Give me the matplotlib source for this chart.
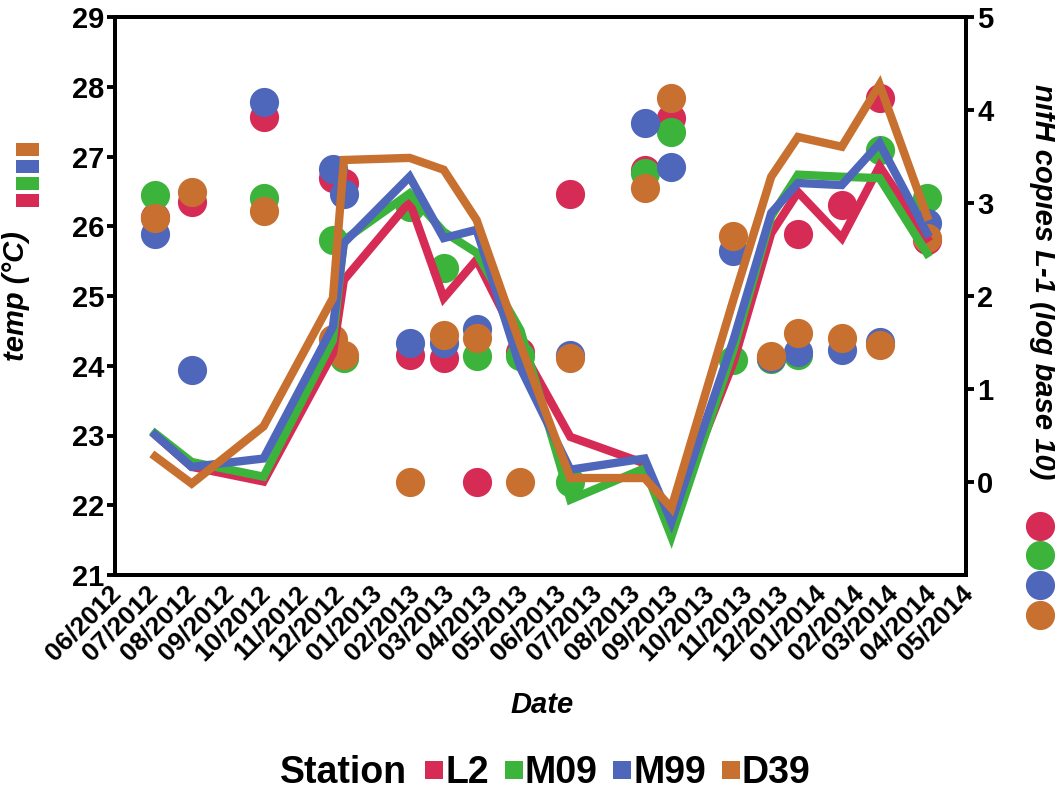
import numpy as np
import pandas as pd
import matplotlib
matplotlib.use('Agg')
import matplotlib.pyplot as plt
import matplotlib.dates as mdates
import matplotlib.transforms as mtransforms
from matplotlib.lines import Line2D
from matplotlib.patches import Patch

plt.rcParams['font.family'] = ['Liberation Sans', 'DejaVu Sans']
plt.rcParams['font.weight'] = 'bold'
plt.rcParams['axes.labelweight'] = 'bold'

# sampling dates (shared by all stations)
sample_dates = ['2012-07-04', '2012-08-03', '2012-10-01', '2012-11-27', '2012-12-06',
                '2013-01-29', '2013-02-26', '2013-03-25', '2013-04-30', '2013-06-10',
                '2013-08-10', '2013-09-01', '2013-10-22', '2013-11-22', '2013-12-14',
                '2014-01-19', '2014-02-19', '2014-03-30']

stations = ['L2', 'M09', 'M99', 'D39']
station_colors = ['#D62B55', '#3CB43C', '#4F67BA', '#C8702F']

# temperature (left axis, lines)
temp_L2 = [23.01, 22.55, 22.34, 24.18, 25.23, 26.35, 24.97, 25.52, 24.27, 22.98,
           22.60, 21.79, 24.05, 25.90, 26.49, 25.83, 26.86, 25.83]
temp_M09 = [23.03, 22.62, 22.41, 24.37, 25.80, 26.47, 25.92, 25.62, 24.51, 22.08,
            22.53, 21.55, 24.23, 26.14, 26.74, 26.71, 26.69, 25.61]
temp_M99 = [23.01, 22.55, 22.67, 24.56, 25.76, 26.71, 25.83, 25.95, 23.97, 22.51,
            22.67, 21.76, 24.37, 26.19, 26.62, 26.59, 27.19, 25.90]
temp_D39 = [22.70, 22.31, 23.13, 24.97, 26.95, 26.98, 26.81, 26.09, 24.30, 22.39,
            22.39, 21.96, 24.95, 26.71, 27.28, 27.14, 28.03, 26.14]

# nifH copies L-1, log10 (right axis, points); nan = no visible point
nan = np.nan
nifh_L2 = [2.85, 3.01, 3.93, 3.27, 3.22, 1.37, 1.33, 0.00, 1.40, 3.10,
           3.35, 3.91, nan, nan, 2.67, 2.98, 4.13, 2.60]
nifh_M09 = [3.09, nan, 3.05, 2.60, 1.33, 2.96, 2.30, 1.35, 1.35, 0.00,
            3.32, 3.76, 1.31, 1.32, 1.37, nan, 3.57, 3.05]
nifh_M99 = [2.67, 1.20, 4.09, 3.37, 3.10, 1.49, 1.49, 1.65, nan, 1.37,
            3.86, 3.39, 2.48, 1.33, 1.40, 1.42, 1.51, 2.78]
nifh_D39 = [2.84, 3.12, 2.91, 1.54, 1.37, 0.00, 1.58, 1.55, 0.00, 1.33,
            3.16, 4.13, 2.64, 1.35, 1.60, 1.55, 1.47, 2.62]

temps = [temp_L2, temp_M09, temp_M99, temp_D39]
nifhs = [nifh_L2, nifh_M09, nifh_M99, nifh_D39]
dates = pd.to_datetime(sample_dates)

W, H = 1055, 791
fig = plt.figure(figsize=(W / 100, H / 100), dpi=100)
ax = fig.add_axes([115 / W, 1 - 575 / H, 851 / W, 558 / H])
ax2 = ax.twinx()

# points on the right axis, lines on top
for vals, c in zip(nifhs, station_colors):
    ax2.plot(dates, vals, linestyle='none', marker='o', markersize=21,
             markeredgewidth=0, color=c)
for vals, c in zip(temps, station_colors):
    ax.plot(dates, vals, color=c, linewidth=6, solid_joinstyle='miter')

ax.set_zorder(ax2.get_zorder() + 1)
ax.patch.set_visible(False)

ax.set_xlim(pd.Timestamp('2012-06-01'), pd.Timestamp('2014-05-01'))
ax.xaxis.set_major_locator(mdates.MonthLocator())
ax.xaxis.set_major_formatter(mdates.DateFormatter('%m/%Y'))
ax.set_ylim(21, 29)
ax.set_yticks(range(21, 30))
ax2.set_ylim(-1, 5)
ax2.set_yticks(range(0, 6))

for a in (ax, ax2):
    for s in a.spines.values():
        s.set_linewidth(2.8)
ax.tick_params(axis='y', length=6, width=2.8, labelsize=21, pad=2)
ax2.tick_params(axis='y', length=6, width=2.8, labelsize=21, pad=2)
ax.tick_params(axis='x', length=0, labelsize=19, pad=4)
offset = mtransforms.ScaledTranslation(0.11, 0, fig.dpi_scale_trans)
for lbl in ax.get_xticklabels():
    lbl.set_rotation(45)
    lbl.set_ha('right')
    lbl.set_transform(lbl.get_transform() + offset)

ax.set_ylabel('temp (°C)', fontsize=21, fontstyle='italic', fontweight='bold')
ax.yaxis.set_label_coords(-0.0999, 0.50)
ax2.set_ylabel('nifH copies L-1 (log base 10)', fontsize=21, fontstyle='italic',
               fontweight='bold', rotation=270, va='center', ha='center')
ax2.yaxis.set_label_coords(1.0905, 0.525)
ax.set_xlabel('Date', fontsize=21, fontstyle='italic', fontweight='bold', va='center')
ax.xaxis.set_label_coords(0.502, -0.233)

# left colour key (lines)
left_handles = [Patch(facecolor=c, edgecolor='none') for c in station_colors[::-1]]
fig.legend(left_handles, [''] * 4, loc='upper left', bbox_to_anchor=(16 / W, 1 - 143 / H),
           frameon=False, fontsize=10, handlelength=1.65, handleheight=1.05,
           labelspacing=0.2, borderpad=0, borderaxespad=0, handletextpad=0)

# right colour key (points)
right_handles = [Line2D([], [], linestyle='none', marker='o', markersize=21,
                        markeredgewidth=0, color=c) for c in station_colors]
fig.legend(right_handles, [''] * 4, loc='upper left', bbox_to_anchor=(1033 / W, 1 - 519 / H),
           frameon=False, fontsize=10, handlelength=1.0, handleheight=1.6,
           labelspacing=0.85, borderpad=0, borderaxespad=0, handletextpad=0)

# bottom legend
fig.text(280 / W, 1 - 773 / H, 'Station', fontsize=27, va='center', ha='left')
bottom_handles = [Line2D([], [], linestyle='none', marker='s', markersize=13,
                         markeredgewidth=0, color=c) for c in station_colors]
fig.legend(bottom_handles, stations, loc='center left', bbox_to_anchor=(425 / W, 1 - 773 / H),
           ncol=4, frameon=False, fontsize=27, handlelength=0.5, handletextpad=0.05,
           columnspacing=0.4, borderpad=0, borderaxespad=0)

fig.savefig('out.png', dpi=100)
